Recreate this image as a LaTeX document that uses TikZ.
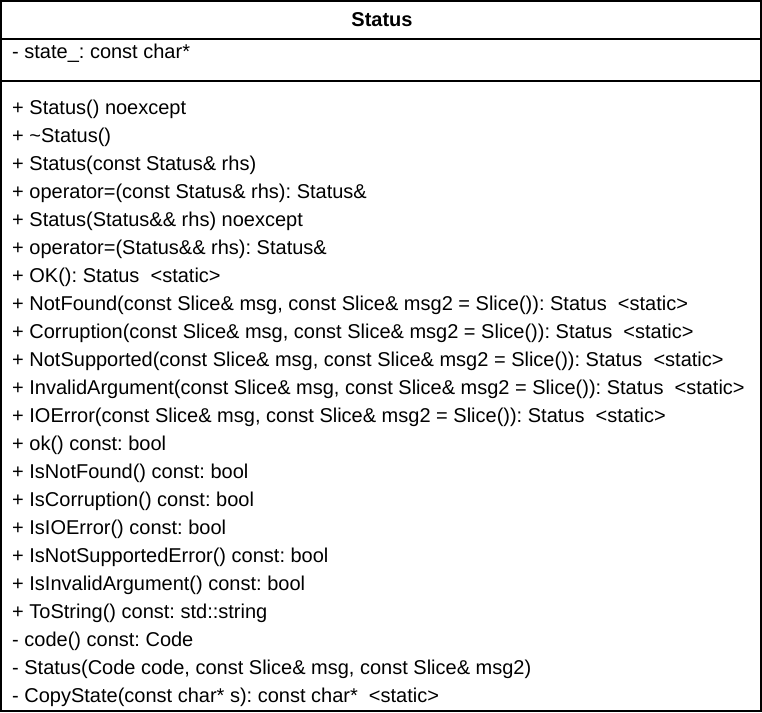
\documentclass[tikz,border=0pt]{standalone}
\usepackage{fontspec}
\setmainfont{Liberation Sans}
\frenchspacing
\begin{document}
\begin{tikzpicture}[x=1pt,y=-1pt,
  member/.style={anchor=base west,inner sep=0pt,font=\fontsize{20}{22}\selectfont},
  titletext/.style={anchor=base,inner sep=0pt,font=\fontsize{20}{22}\selectfont\bfseries},
  frame/.style={line width=2pt,draw=black}]
\useasboundingbox (0,0) rectangle (762,712);
\fill[white] (0,0) rectangle (762,712);
\draw[frame] (1,1) rectangle (761,711);
\draw[frame] (1,39) -- (761,39);
\draw[frame] (1,81) -- (761,81);
\node[titletext] (title) at (382,26) {Status};
\node[member] (a1) at (12,58) {- state\_: const char*};
\node[member] (m1) at (12,114.5) {+ Status() noexcept};
\node[member] (m2) at (12,142.5) {+ \textasciitilde Status()};
\node[member] (m3) at (12,170.5) {+ Status(const Status\& rhs)};
\node[member] (m4) at (12,198.5) {+ operator=(const Status\& rhs): Status\&};
\node[member] (m5) at (12,226.5) {+ Status(Status\&\& rhs) noexcept};
\node[member] (m6) at (12,254.5) {+ operator=(Status\&\& rhs): Status\&};
\node[member] (m7) at (12,282.5) {+ OK(): Status \ <static>};
\node[member] (m8) at (12,310.5) {+ NotFound(const Slice\& msg, const Slice\& msg2 = Slice()): Status \ <static>};
\node[member] (m9) at (12,338.5) {+ Corruption(const Slice\& msg, const Slice\& msg2 = Slice()): Status \ <static>};
\node[member] (m10) at (12,366.5) {+ NotSupported(const Slice\& msg, const Slice\& msg2 = Slice()): Status \ <static>};
\node[member] (m11) at (12,394.5) {+ InvalidArgument(const Slice\& msg, const Slice\& msg2 = Slice()): Status \ <static>};
\node[member] (m12) at (12,422.5) {+ IOError(const Slice\& msg, const Slice\& msg2 = Slice()): Status \ <static>};
\node[member] (m13) at (12,450.5) {+ ok() const: bool};
\node[member] (m14) at (12,478.5) {+ IsNotFound() const: bool};
\node[member] (m15) at (12,506.5) {+ IsCorruption() const: bool};
\node[member] (m16) at (12,534.5) {+ IsIOError() const: bool};
\node[member] (m17) at (12,562.5) {+ IsNotSupportedError() const: bool};
\node[member] (m18) at (12,590.5) {+ IsInvalidArgument() const: bool};
\node[member] (m19) at (12,618.5) {+ ToString() const: std::string};
\node[member] (m20) at (12,646.5) {- code() const: Code};
\node[member] (m21) at (12,674.5) {- Status(Code code, const Slice\& msg, const Slice\& msg2)};
\node[member] (m22) at (12,702.5) {- CopyState(const char* s): const char* \ <static>};
\end{tikzpicture}
\end{document}
